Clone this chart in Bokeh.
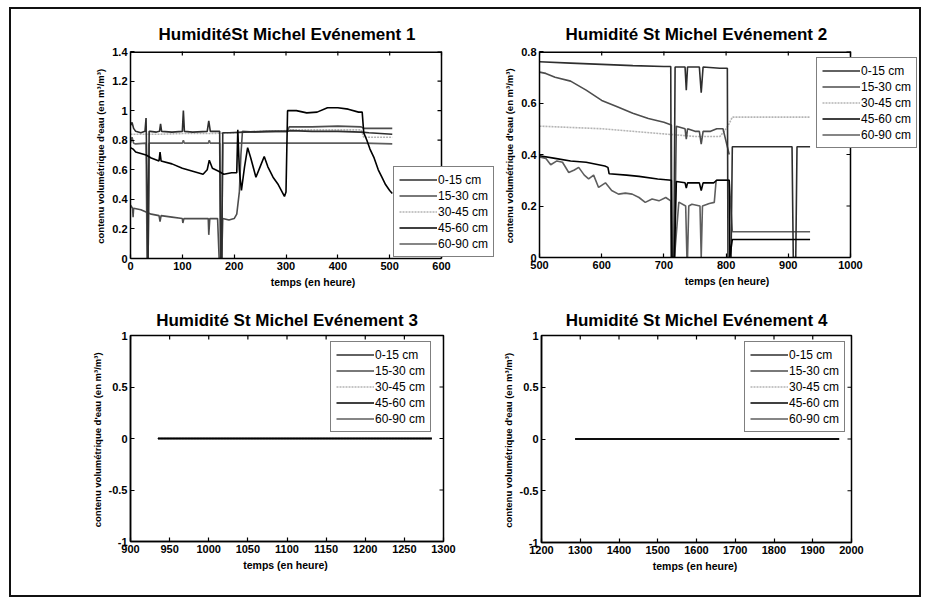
import math
from bokeh.plotting import figure
from bokeh.models import Range1d, FixedTicker, Legend, LegendItem
from bokeh.layouts import column, row
from bokeh.embed import file_html
from bokeh.resources import INLINE

FONT = "Liberation Sans"

# ---------------- data ----------------
depth_labels = ["0-15 cm", "15-30 cm", "30-45 cm", "45-60 cm", "60-90 cm"]

titles = ["HumiditéSt Michel Evénement 1", "Humidité St Michel Evénement 2",
          "Humidité St Michel Evénement 3", "Humidité St Michel Evénement 4"]
x_title = "temps  (en heure)"
y_title = "contenu volumétrique d'eau  (en m³/m³)"

# Event 1
ev1_t_015 = [0, 3, 6, 10, 20, 28, 30, 32, 33, 34, 36, 38, 50, 56, 58, 60, 80, 100, 102, 104, 120, 148, 151, 154,
             168, 172, 174, 176, 178, 190, 220, 260, 300, 310, 350, 400, 445, 460, 505]
ev1_v_015 = [0.9, 0.92, 0.88, 0.86, 0.85, 0.86, 0.95, 0.5, 0.0, 0.0, 0.86, 0.86, 0.855, 0.86, 0.91, 0.86, 0.855,
             0.86, 1.0, 0.86, 0.855, 0.86, 0.93, 0.86, 0.86, 0.86, 0.0, 0.0, 0.85, 0.85, 0.855, 0.86, 0.86, 0.865,
             0.86, 0.86, 0.855, 0.85, 0.84]
ev1_t_1530 = [0, 4, 5, 6, 20, 40, 55, 57, 59, 80, 100, 101, 103, 130, 150, 151, 153, 168, 171, 173, 176, 178, 190,
              200, 205, 210, 213, 216, 240, 280, 303, 306, 350, 400, 445, 450, 505]
ev1_v_1530 = [0.36, 0.34, 0.28, 0.34, 0.33, 0.3, 0.29, 0.25, 0.29, 0.28, 0.27, 0.24, 0.27, 0.27, 0.27, 0.16, 0.27,
              0.27, 0.0, 0.0, 0.0, 0.27, 0.26, 0.27, 0.3, 0.45, 0.7, 0.86, 0.855, 0.86, 0.86, 0.89, 0.89, 0.895,
              0.89, 0.88, 0.88]
ev1_t_3045 = [0, 50, 100, 150, 200, 250, 300, 305, 350, 400, 445, 450, 505]
ev1_v_3045 = [0.84, 0.84, 0.845, 0.845, 0.85, 0.86, 0.865, 0.87, 0.87, 0.87, 0.87, 0.82, 0.82]
ev1_t_4560 = [0, 5, 10, 20, 30, 40, 55, 57, 59, 80, 100, 120, 140, 148, 152, 158, 170, 180, 195, 205, 207, 210,
              214, 220, 226, 232, 242, 250, 258, 265, 275, 285, 297, 300, 303, 320, 340, 360, 380, 400, 420, 440,
              447, 450, 456, 462, 470, 478, 485, 492, 500, 505]
ev1_v_4560 = [0.75, 0.74, 0.72, 0.71, 0.7, 0.68, 0.66, 0.72, 0.66, 0.64, 0.61, 0.59, 0.57, 0.6, 0.665, 0.61, 0.59,
              0.57, 0.58, 0.58, 0.87, 0.6, 0.46, 0.62, 0.75, 0.68, 0.55, 0.62, 0.69, 0.62, 0.55, 0.5, 0.42, 0.45,
              1.0, 1.0, 0.985, 0.99, 1.02, 1.02, 1.01, 0.99, 0.99, 0.85, 0.8, 0.74, 0.68, 0.6, 0.55, 0.5, 0.46, 0.44]
ev1_t_6090 = [0, 3, 6, 10, 30, 32, 34, 36, 100, 102, 104, 150, 152, 154, 172, 174, 176, 178, 250, 350, 450, 505]
ev1_v_6090 = [0.78, 0.82, 0.78, 0.775, 0.78, 0.0, 0.0, 0.78, 0.78, 0.8, 0.78, 0.78, 0.8, 0.78, 0.78, 0.0, 0.0,
              0.78, 0.78, 0.78, 0.78, 0.775]

# Event 2
ev2_t_015 = [500, 550, 600, 650, 700, 711, 712, 716, 718, 720, 734, 736, 738, 757, 760, 763, 790, 802, 803, 806,
             808, 810, 906, 908, 912, 914, 935]
ev2_v_015 = [0.76, 0.755, 0.75, 0.745, 0.742, 0.742, 0.0, 0.0, 0.74, 0.74, 0.74, 0.65, 0.74, 0.74, 0.64, 0.74,
             0.735, 0.735, 0.0, 0.0, 0.0, 0.43, 0.43, 0.0, 0.0, 0.43, 0.43]
ev2_t_1530 = [500, 510, 525, 550, 575, 600, 625, 650, 675, 700, 712, 713, 717, 720, 734, 736, 738, 750, 757, 760,
              763, 775, 785, 795, 800, 805]
ev2_v_1530 = [0.72, 0.715, 0.7, 0.685, 0.65, 0.61, 0.585, 0.56, 0.54, 0.525, 0.515, 0.0, 0.0, 0.51, 0.5, 0.46,
              0.5, 0.49, 0.49, 0.44, 0.49, 0.49, 0.5, 0.5, 0.45, 0.4]
ev2_t_3045 = [500, 550, 600, 650, 700, 750, 790, 800, 805, 810, 935]
ev2_v_3045 = [0.51, 0.505, 0.5, 0.49, 0.48, 0.47, 0.47, 0.5, 0.52, 0.545, 0.545]
ev2_t_4560 = [500, 525, 550, 575, 605, 610, 612, 640, 660, 690, 712, 713, 717, 720, 734, 736, 738, 755, 757, 760,
              763, 780, 785, 805, 806, 810, 935]
ev2_v_4560 = [0.395, 0.385, 0.375, 0.37, 0.355, 0.35, 0.325, 0.32, 0.315, 0.305, 0.3, 0.0, 0.0, 0.295, 0.29,
              0.27, 0.29, 0.29, 0.29, 0.26, 0.29, 0.29, 0.3, 0.3, 0.0, 0.07, 0.07]
ev2_t_6090 = [500, 510, 518, 528, 537, 547, 556, 563, 572, 579, 587, 595, 606, 616, 627, 638, 649, 660, 670, 681,
              692, 703, 711, 712, 717, 724, 735, 737, 738, 740, 745, 758, 760, 762, 773, 781, 784, 790, 800, 805,
              810, 935]
ev2_v_6090 = [0.39, 0.385, 0.36, 0.375, 0.37, 0.33, 0.34, 0.35, 0.32, 0.305, 0.32, 0.272, 0.29, 0.26, 0.246, 0.25,
              0.246, 0.233, 0.214, 0.227, 0.22, 0.233, 0.22, 0.0, 0.0, 0.215, 0.2, 0.0, 0.0, 0.2, 0.207, 0.2, 0.0,
              0.2, 0.21, 0.214, 0.3, 0.3, 0.3, 0.3, 0.1, 0.1]

# Event 3
ev3_t = [935, 1285]
ev3_v_015 = [0, 0]
ev3_v_1530 = [0, 0]
ev3_v_3045 = [0, 0]
ev3_v_4560 = [0, 0]
ev3_v_6090 = [0, 0]

# Event 4
ev4_t = [1287, 1968]
ev4_v_015 = [0, 0]
ev4_v_1530 = [0, 0]
ev4_v_3045 = [0, 0]
ev4_v_4560 = [0, 0]
ev4_v_6090 = [0, 0]

# ticks
ev1_xticks = [0, 100, 200, 300, 400, 500, 600]
ev1_xlabels = ["0", "100", "200", "300", "400", "500", "600"]
ev1_yticks = [0, 0.2, 0.4, 0.6, 0.8, 1, 1.2, 1.4]
ev1_ylabels = ["0", "0.2", "0.4", "0.6", "0.8", "1", "1.2", "1.4"]
ev2_xticks = [500, 600, 700, 800, 900, 1000]
ev2_xlabels = ["500", "600", "700", "800", "900", "1000"]
ev2_yticks = [0, 0.2, 0.4, 0.6, 0.8]
ev2_ylabels = ["0", "0.2", "0.4", "0.6", "0.8"]
ev3_xticks = [900, 950, 1000, 1050, 1100, 1150, 1200, 1250, 1300]
ev3_xlabels = ["900", "950", "1000", "1050", "1100", "1150", "1200", "1250", "1300"]
ev4_xticks = [1200, 1300, 1400, 1500, 1600, 1700, 1800, 1900, 2000]
ev4_xlabels = ["1200", "1300", "1400", "1500", "1600", "1700", "1800", "1900", "2000"]
ev34_yticks = [-1, -0.5, 0, 0.5, 1]
ev34_ylabels = ["-1", "-0.5", "0", "0.5", "1"]

# ---------------- style ----------------
line_colors = ["#2e2e2e", "#4d4d4d", "#b4b4b4", "#000000", "#5e5e5e"]
line_dashes = ["solid", "solid", "2 1", "solid", "solid"]
draw_order = [2, 4, 1, 0, 3]
TICK_PX = 4


def style_axis(ax, ticks, labels):
    ax.ticker = FixedTicker(ticks=ticks)
    ax.major_tick_in = TICK_PX
    ax.major_tick_out = 0
    ax.minor_tick_in = 0
    ax.minor_tick_out = 0
    ax.axis_line_width = 1.5
    ax.axis_line_color = "black"
    ax.major_tick_line_color = "black"
    ax.major_tick_line_width = 1.2
    ax.major_label_overrides = dict(zip(ticks, labels))
    ax.major_label_text_font = FONT
    ax.major_label_text_font_size = "11px"
    ax.major_label_text_font_style = "bold"
    ax.major_label_text_color = "black"
    ax.major_label_standoff = 3
    ax.axis_label_text_font = FONT
    ax.axis_label_text_font_style = "bold"
    ax.axis_label_text_color = "black"
    ax.axis_label_standoff = 3


def make_fig(title, xr, yr, xticks, xlabels, yticks, ylabels, box_w, fw, fh, bl, br, bt, bb,
             times, series, legend_loc, title_standoff, title_offset=None):
    # box_w: width in px of the axes box; fw: width of the drawing frame (wider when the legend overhangs)
    x_end = xr[0] + (xr[1] - xr[0]) * fw / box_w
    p = figure(frame_width=fw, frame_height=fh, x_range=Range1d(xr[0], x_end), y_range=Range1d(*yr),
               output_backend="svg", toolbar_location=None, title=title,
               min_border_left=bl, min_border_right=br, min_border_top=bt, min_border_bottom=bb,
               x_axis_label=x_title, y_axis_label=y_title)
    p.title.text_font = FONT
    p.title.text_font_size = "17px"
    p.title.text_font_style = "bold"
    p.title.text_color = "black"
    p.title.standoff = title_standoff
    if title_offset is None:
        p.title.align = "center"
    else:
        p.title.align = "left"
        p.title.offset = title_offset
    p.xgrid.visible = False
    p.ygrid.visible = False
    p.background_fill_color = "white"
    p.border_fill_color = "white"
    style_axis(p.xaxis[0], xticks, xlabels)
    style_axis(p.yaxis[0], yticks, ylabels)
    p.xaxis[0].axis_label_text_font_size = "10.5px"
    p.yaxis[0].axis_label_text_font_size = "9.5px"

    if fw == box_w:
        p.outline_line_color = "black"
        p.outline_line_width = 1.5
        p.scatter(x=[xr[1]] * len(yticks), y=yticks, marker="dash", size=2 * TICK_PX,
                  line_color="black", line_width=1.2)
    else:
        # axes box narrower than the frame: close the box at the right end of the x range
        p.outline_line_color = None
        p.xaxis[0].bounds = (xr[0], xr[1])
        p.line(x=[xr[0], xr[1]], y=[yr[1], yr[1]], line_color="black", line_width=3)
        p.line(x=[xr[1], xr[1]], y=[yr[1], yr[0]], line_color="black", line_width=1.5)
        dx = (x_end - xr[0]) / fw * TICK_PX
        p.segment(x0=[xr[1] - dx] * len(yticks), y0=yticks, x1=[xr[1]] * len(yticks), y1=yticks,
                  line_color="black", line_width=1.2)
    # inward ticks on the top edge (half of each dash is clipped by the frame)
    p.scatter(x=xticks, y=[yr[1]] * len(xticks), marker="dash", size=2 * TICK_PX, angle=math.pi / 2,
              line_color="black", line_width=1.2)

    rends = [None] * 5
    for i in draw_order:
        rends[i] = p.line(times[i], series[i], line_color=line_colors[i], line_width=1.6,
                          line_dash=line_dashes[i])
    items = [LegendItem(label=depth_labels[i], renderers=[rends[i]]) for i in range(5)]
    leg = Legend(items=items, location=legend_loc, label_text_font=FONT, label_text_font_size="12px",
                 label_text_color="black", glyph_width=38, glyph_height=15, label_height=15,
                 label_standoff=1, spacing=1, padding=5, margin=0, border_line_color="black",
                 border_line_width=1.5, background_fill_color="white", background_fill_alpha=1.0)
    p.add_layout(leg)
    return p


f1 = make_fig(titles[0], (0, 600), (0, 1.4), ev1_xticks, ev1_xlabels, ev1_yticks, ev1_ylabels,
              311, 368, 207, 119, 1, 41, 42,
              [ev1_t_015, ev1_t_1530, ev1_t_3045, ev1_t_4560, ev1_t_6090],
              [ev1_v_015, ev1_v_1530, ev1_v_3045, ev1_v_4560, ev1_v_6090], (263, 1), 15, 28)
f2 = make_fig(titles[1], (500, 1000), (0, 0.8), ev2_xticks, ev2_xlabels, ev2_yticks, ev2_ylabels,
              311, 378, 206, 40, 1, 42, 42,
              [ev2_t_015, ev2_t_1530, ev2_t_3045, ev2_t_4560, ev2_t_6090],
              [ev2_v_015, ev2_v_1530, ev2_v_3045, ev2_v_4560, ev2_v_6090], (277, 109), 15, 26)
f3 = make_fig(titles[2], (900, 1300), (-1, 1), ev3_xticks, ev3_xlabels, ev34_yticks, ev34_ylabels,
              313, 313, 206, 119, 56, 36, 54,
              [ev3_t] * 5, [ev3_v_015, ev3_v_1530, ev3_v_3045, ev3_v_4560, ev3_v_6090], (200, 109), 11)
f4 = make_fig(titles[3], (1200, 2000), (-1, 1), ev4_xticks, ev4_xlabels, ev34_yticks, ev34_ylabels,
              310, 310, 207, 41, 68, 36, 53,
              [ev4_t] * 5, [ev4_v_015, ev4_v_1530, ev4_v_3045, ev4_v_4560, ev4_v_6090], (203, 110), 11)

layout = column(row(f1, f2), row(f3, f4),
                styles={"border": "2px solid #111", "margin-left": "9px", "margin-top": "7px"})

open("out.html", "w").write(file_html(layout, INLINE))
